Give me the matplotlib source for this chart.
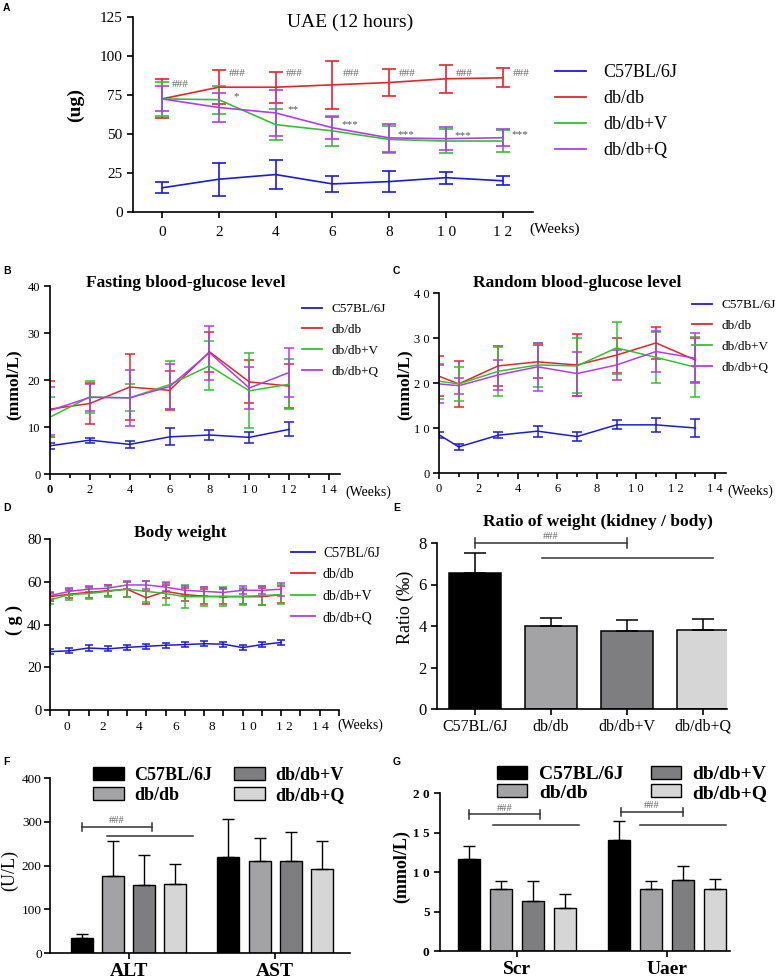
import numpy as np
import matplotlib
matplotlib.use("Agg")
from matplotlib import pyplot as plt
from matplotlib.lines import Line2D

plt.rcParams['font.family'] = ['Liberation Serif', 'DejaVu Serif']
plt.rcParams['axes.linewidth'] = 1.2
plt.rcParams['xtick.major.width'] = 1.2
plt.rcParams['ytick.major.width'] = 1.2
plt.rcParams['xtick.minor.width'] = 1.2

W, H = 777, 980

groups = ["C57BL/6J", "db/db", "db/db+V", "db/db+Q"]
line_colors = ['#1a1adb', '#e5242b', '#33c133', '#b23de6']
bar_colors = ['#000000', '#a3a3a6', '#7e7e80', '#d6d6d6']

# A: UAE (12 hours)
weeks_a = [0, 2, 4, 6, 8, 10, 12]
uae_c57 = [15.5, 21, 24, 18, 19.5, 22, 20]
uae_c57_sd = [3.5, 10.5, 9.5, 5, 6.5, 3.8, 2.9]
uae_db = [72.5, 80, 80, 81.5, 83, 85.4, 86]
uae_db_sd = [12.5, 11, 10, 15.5, 8.5, 8.9, 6]
uae_v = [72.5, 72, 56, 52, 46.5, 45.5, 45.5]
uae_v_sd = [11, 9, 10, 9.5, 8.5, 7.8, 7]
uae_q = [72.5, 67, 63.5, 54, 47.5, 47, 47.6]
uae_q_sd = [8, 9.5, 14.5, 7, 9, 7.2, 5.4]
uae_sig = ["*", "**", "***", "***", "***", "***"]

# B: fasting blood glucose
weeks_b = [0, 2, 4, 6, 8, 10, 12]
fbg_c57 = [6.0, 7.2, 6.3, 7.9, 8.3, 7.8, 9.5]
fbg_c57_sd = [0.7, 0.5, 0.8, 1.8, 1.1, 1.1, 1.5]
fbg_db = [13.8, 15.0, 18.5, 17.8, 26.0, 19.6, 18.7]
fbg_db_sd = [6.0, 4.3, 7.0, 4.2, 4.3, 4.6, 4.7]
fbg_v = [12.1, 16.4, 16.2, 19.0, 23.0, 17.7, 19.1]
fbg_v_sd = [4.3, 3.4, 2.9, 5.1, 5.2, 8.0, 5.3]
fbg_q = [13.5, 16.3, 16.2, 18.6, 25.8, 18.3, 21.6]
fbg_q_sd = [5.1, 2.9, 6.0, 4.8, 5.7, 4.5, 5.2]

# C: random blood glucose
weeks_c = [0, 1, 3, 5, 7, 9, 11, 13]
rbg_c57 = [8.5, 5.8, 8.4, 9.3, 8.1, 10.7, 10.7, 10.0]
rbg_c57_sd = [0.7, 0.6, 0.7, 1.2, 1.0, 1.0, 1.5, 2.0]
rbg_db = [21.5, 19.8, 23.8, 24.7, 24.0, 26.2, 28.9, 25.1]
rbg_db_sd = [4.5, 5.2, 4.4, 3.7, 6.9, 3.9, 3.6, 4.8]
rbg_v = [20.4, 19.8, 22.6, 24.0, 23.8, 27.8, 25.7, 23.5]
rbg_v_sd = [3.9, 3.8, 5.4, 4.8, 6.1, 5.7, 5.6, 6.7]
rbg_q = [19.8, 19.4, 21.8, 23.6, 22.1, 24.0, 27.0, 25.5]
rbg_q_sd = [4.2, 1.8, 3.4, 5.3, 4.9, 3.3, 4.5, 5.6]

# D: body weight (13 weekly points)
bw_c57 = [27.3, 27.7, 29.0, 28.6, 29.3, 29.8, 30.3, 30.6, 31.0, 30.8, 29.2, 30.6, 31.6]
bw_c57_sd = [1.2] * 13
bw_db = [53.0, 54.2, 55.0, 55.8, 56.5, 52.5, 55.5, 54.0, 53.2, 53.0, 53.0, 53.0, 54.0]
bw_db_sd = [1.8, 2.0, 2.5, 2.5, 3.5, 3.0, 3.0, 3.0, 3.5, 3.5, 3.5, 4.0, 4.0]
bw_v = [51.5, 54.0, 54.5, 55.5, 56.5, 55.5, 54.5, 53.0, 53.0, 53.2, 53.2, 53.5, 54.0]
bw_v_sd = [2.0, 2.5, 2.5, 2.5, 3.5, 5.0, 5.5, 5.5, 4.5, 4.5, 4.0, 4.5, 4.5]
bw_q = [53.5, 55.5, 56.5, 57.0, 58.5, 58.5, 57.5, 56.0, 55.5, 55.0, 56.0, 56.0, 56.5]
bw_q_sd = [1.5, 1.8, 1.5, 1.5, 1.8, 2.0, 2.0, 2.0, 2.0, 2.0, 1.8, 1.8, 3.0]

# E: kidney / body ratio
ratio = [6.55, 4.0, 3.75, 3.8]
ratio_sd = [0.95, 0.4, 0.55, 0.52]

# F: liver enzymes
enzymes = ["ALT", "AST"]
alt = [35, 177, 156, 158]
alt_sd = [8, 78, 68, 46]
ast = [219, 210, 210, 192]
ast_sd = [88, 52, 66, 63]

# G: kidney function
renal = ["Scr", "Uaer"]
scr = [11.6, 7.8, 6.3, 5.4]
scr_sd = [1.7, 1.0, 2.5, 1.8]
uaer = [14.1, 7.9, 9.0, 7.8]
uaer_sd = [2.4, 0.9, 1.8, 1.3]


def rect(l, r, t, b):
    return [l / W, 1 - b / H, (r - l) / W, (b - t) / H]


def fx(px):
    return px / W


def fy(py):
    return 1 - py / H


def clean(ax):
    ax.spines['top'].set_visible(False)
    ax.spines['right'].set_visible(False)
    ax.tick_params(direction='out', length=4)


def line_handles(lw):
    return [Line2D([], [], color=c, lw=lw) for c in line_colors]


fig = plt.figure(figsize=(W / 100, H / 100), dpi=100)

# panel letters
for lab, px, py in [("A", 3, 8), ("B", 3, 271), ("C", 393, 271), ("D", 3, 508),
                    ("E", 393, 508), ("F", 3, 762), ("G", 393, 762)]:
    fig.text(fx(px), fy(py), lab, family='Liberation Sans', weight='bold', fontsize=7.5,
             va='center', ha='left')

# ---------- A ----------
ax = fig.add_axes(rect(133, 533, 17, 212))
clean(ax)
series = [(uae_c57, uae_c57_sd), (uae_db, uae_db_sd), (uae_v, uae_v_sd), (uae_q, uae_q_sd)]
for (m, s), c in zip(series, line_colors):
    ax.errorbar(weeks_a, m, yerr=s, color=c, lw=1.2, elinewidth=1.2, capsize=5, capthick=1.2)
for i, w in enumerate(weeks_a):
    ty = 82 if i == 0 else 89
    ax.text(w + 0.65, ty, "###", fontsize=8, color='#666666', ha='center', va='center')
for i, w in enumerate(weeks_a[1:]):
    ax.text(w + 0.6, max(uae_v[i + 1], uae_q[i + 1]) + 2, uae_sig[i],
            fontsize=8, color='#555555', ha='center', va='center')
ax.set_xlim(-1.02, 13.06)
ax.set_ylim(0, 125)
ax.set_xticks(weeks_a)
ax.set_xticklabels(["0", "2", "4", "6", "8", "1 0", "1 2"], fontsize=11)
ax.set_yticks([0, 25, 50, 75, 100, 125])
ax.tick_params(axis='y', labelsize=11)
ax.tick_params(axis='x', pad=6)
ax.legend(line_handles(1.3), groups, loc='upper left', bbox_to_anchor=(fx(555), fy(64)),
          bbox_transform=fig.transFigure, frameon=False, fontsize=13, handlelength=1.7,
          handletextpad=1.0, labelspacing=0.5, borderpad=0, borderaxespad=0)
fig.text(fx(350), fy(22), "UAE (12 hours)", fontsize=14, ha='center', va='center')
fig.text(fx(75), fy(105), "(ug)", fontsize=14, weight='bold', rotation=90, ha='center', va='center')
fig.text(fx(555), fy(229), "(Weeks)", fontsize=11, ha='center', va='center')


def glucose_panel(box, weeks, series, labels_y, title, title_xy, leg_xy, weeks_xy):
    ax = fig.add_axes(rect(*box))
    clean(ax)
    for (m, s), c in zip(series, line_colors):
        ax.errorbar(weeks, m, yerr=s, color=c, lw=1.1, elinewidth=1.1, capsize=3.5, capthick=1.1)
    ax.set_xlim(0, 14.55)
    ax.set_ylim(0, 40)
    ax.set_xticks(range(0, 15, 2))
    ax.set_xticks(range(1, 15, 2), minor=True)
    ax.tick_params(axis='x', which='minor', direction='out', length=3)
    ax.set_xticklabels(["0", "2", "4", "6", "8", "1 0", "1 2", "1 4"], fontsize=9)
    ax.set_yticks([0, 10, 20, 30, 40])
    ax.set_yticklabels(labels_y, fontsize=9)
    ax.tick_params(axis='both', pad=3)
    ax.legend(line_handles(1.3), groups, loc='upper left',
              bbox_to_anchor=(fx(leg_xy[0]), fy(leg_xy[1])), bbox_transform=fig.transFigure,
              frameon=False, fontsize=9.5, handlelength=1.5, handletextpad=0.7,
              labelspacing=0.65, borderpad=0, borderaxespad=0)
    fig.text(fx(title_xy[0]), fy(title_xy[1]), title, fontsize=12.5, weight='bold',
             ha='center', va='center')
    fig.text(fx(weeks_xy[0]), fy(weeks_xy[1]), "(Weeks)", fontsize=10, ha='center', va='center')
    return ax


# ---------- B ----------
axb = glucose_panel((50, 340, 286, 474), weeks_b,
                    [(fbg_c57, fbg_c57_sd), (fbg_db, fbg_db_sd), (fbg_v, fbg_v_sd), (fbg_q, fbg_q_sd)],
                    ["0", "10", "20", "30", "40"], "Fasting blood-glucose level", (186, 283),
                    (302, 303), (368, 492))
axb.get_xticklabels()[0].set_weight('bold')
fig.text(fx(14), fy(385), "(mmol/L)", fontsize=12.5, weight='bold', rotation=90,
         ha='center', va='center')

# ---------- C ----------
axc = glucose_panel((439, 726, 293, 473), weeks_c,
                    [(rbg_c57, rbg_c57_sd), (rbg_db, rbg_db_sd), (rbg_v, rbg_v_sd), (rbg_q, rbg_q_sd)],
                    ["0", "1 0", "2 0", "3 0", "4 0"], "Random blood-glucose level", (577, 283),
                    (692, 299), (750, 491))
fig.text(fx(405), fy(385), "(mmol/L)", fontsize=12.5, weight='bold', rotation=90,
         ha='center', va='center')

# ---------- D ----------
ax = fig.add_axes(rect(50, 339, 539, 710))
clean(ax)
pos_d = np.arange(len(bw_c57))
series = [(bw_c57, bw_c57_sd), (bw_db, bw_db_sd), (bw_v, bw_v_sd), (bw_q, bw_q_sd)]
for (m, s), c in zip(series, line_colors):
    ax.errorbar(pos_d, m, yerr=s, color=c, lw=1.1, elinewidth=1.1, capsize=3, capthick=1.1)
ax.set_xlim(0, 15)
ax.set_ylim(0, 80)
ax.set_xticks(np.arange(16), minor=True)
ax.set_xticks(0.86 + 1.885 * np.arange(8))
ax.set_xticklabels(["0", "2", "4", "6", "8", "1 0", "1 2", "1 4"], fontsize=9.5)
ax.tick_params(axis='x', which='major', length=0, pad=8)
ax.tick_params(axis='x', which='minor', direction='out', length=4)
ax.set_yticks([0, 20, 40, 60, 80])
ax.tick_params(axis='y', labelsize=10.5, pad=2)
ax.legend(line_handles(1.3), groups, loc='upper left', bbox_to_anchor=(fx(291), fy(547)),
          bbox_transform=fig.transFigure, frameon=False, fontsize=10, handlelength=1.7,
          handletextpad=0.6, labelspacing=0.6, borderpad=0, borderaxespad=0)
fig.text(fx(180), fy(533), "Body weight", fontsize=12.5, weight='bold', ha='center', va='center')
fig.text(fx(14), fy(620), "( g )", fontsize=13, weight='bold', rotation=90, ha='center', va='center')
fig.text(fx(360), fy(725), "(Weeks)", fontsize=10, ha='center', va='center')


def bracket(ax, x0, x1, y, h, y2, x2a, x2b):
    ax.plot([x0, x1], [y, y], color='#333333', lw=1.1, clip_on=False)
    for xb in (x0, x1):
        ax.plot([xb, xb], [y - h, y + h], color='#333333', lw=1.1, clip_on=False)
    ax.annotate("###", xy=((x0 + x1) / 2, y), xytext=(0, 4.5), textcoords='offset points',
                fontsize=7.5, color='#666666', ha='center', va='center', annotation_clip=False)
    ax.plot([x2a, x2b], [y2, y2], color='#333333', lw=1.1, clip_on=False)


# ---------- E ----------
ax = fig.add_axes(rect(437, 727, 543, 709))
clean(ax)
pos_e = np.arange(len(groups))
ax.bar(pos_e, ratio, width=0.68, color=bar_colors, edgecolor='black', lw=1.1)
ax.errorbar(pos_e, ratio, yerr=[[0] * 4, ratio_sd], fmt='none', ecolor='black',
            elinewidth=1.1, capsize=8, capthick=1.1)
ax.set_xlim(-0.5, 3.32)
ax.set_ylim(0, 8)
ax.set_xticks(pos_e)
ax.set_xticklabels(groups, fontsize=11.5)
ax.set_yticks([0, 2, 4, 6, 8])
ax.tick_params(axis='y', labelsize=12)
ax.tick_params(axis='x', pad=3)
bracket(ax, pos_e[0], pos_e[2], 8.0, 0.25, 7.3, pos_e[1] - 0.12, pos_e[3] + 0.13)
fig.text(fx(598), fy(522), "Ratio of weight (kidney / body)", fontsize=12.5, weight='bold',
         ha='center', va='center')
fig.text(fx(405), fy(607), "Ratio (‰)", fontsize=13, rotation=90, ha='center', va='center')


def grouped_bars(ax, vals, sds, step=0.2125, width=0.15):
    for i in range(len(groups)):
        xs = np.arange(len(vals)) + (i - 1.5) * step
        ms = [v[i] for v in vals]
        ss = [s[i] for s in sds]
        ax.bar(xs, ms, width=width, color=bar_colors[i], edgecolor='black', lw=1.0,
               label=groups[i])
        ax.errorbar(xs, ms, yerr=[[0] * len(ms), ss], fmt='none', ecolor='black',
                    elinewidth=1.0, capsize=4, capthick=1.0)
    return step


# ---------- F ----------
ax = fig.add_axes(rect(50, 350, 778, 953))
clean(ax)
step = grouped_bars(ax, [alt, ast], [alt_sd, ast_sd])
ax.set_xlim(-0.536, 1.51)
ax.set_ylim(0, 400)
ax.set_xticks([0, 1])
ax.set_xticklabels(enzymes, fontsize=14, weight='bold')
ax.set_yticks([0, 100, 200, 300, 400])
ax.tick_params(axis='y', labelsize=9.5, pad=2)
bracket(ax, -1.5 * step, 0.5 * step + 0.05, 288, 10, 267, -0.147, 0.44)
ax.legend(loc='upper left', bbox_to_anchor=(fx(93), fy(767)), bbox_transform=fig.transFigure,
          ncol=2, frameon=False, prop={'weight': 'bold', 'size': 13}, handlelength=1.7,
          handleheight=0.7, handletextpad=0.6, labelspacing=0.15, columnspacing=1.2,
          borderpad=0, borderaxespad=0)
fig.text(fx(10), fy(870), "(U/L)", fontsize=13, rotation=90, ha='center', va='center')

# ---------- G ----------
ax = fig.add_axes(rect(440, 730, 793, 951))
clean(ax)
step = grouped_bars(ax, [scr, uaer], [scr_sd, uaer_sd], step=0.213, width=0.147)
ax.set_xlim(-0.513, 1.42)
ax.set_ylim(0, 20)
ax.set_xticks([0, 1])
ax.set_xticklabels(renal, fontsize=14, weight='bold')
ax.set_yticks([0, 5, 10, 15, 20])
ax.set_yticklabels(["0", "5", "1 0", "1 5", "2 0"], fontsize=9.5, weight='bold')
bracket(ax, -1.5 * step, 0.5 * step + 0.05, 17.3, 0.55, 15.9, -0.16, 0.413)
bracket(ax, 1 - 1.5 * step + 0.01, 1 + 0.5 * step, 17.6, 0.55, 15.9, 0.82, 1.393)
ax.legend(loc='upper left', bbox_to_anchor=(fx(497), fy(766)), bbox_transform=fig.transFigure,
          ncol=2, frameon=False, prop={'weight': 'bold', 'size': 14}, handlelength=1.55,
          handleheight=0.65, handletextpad=0.6, labelspacing=0.05, columnspacing=1.4,
          borderpad=0, borderaxespad=0)
fig.text(fx(402), fy(867), "(mmol/L)", fontsize=13, weight='bold', rotation=90,
         ha='center', va='center')

fig.savefig("out.png", dpi=100)
